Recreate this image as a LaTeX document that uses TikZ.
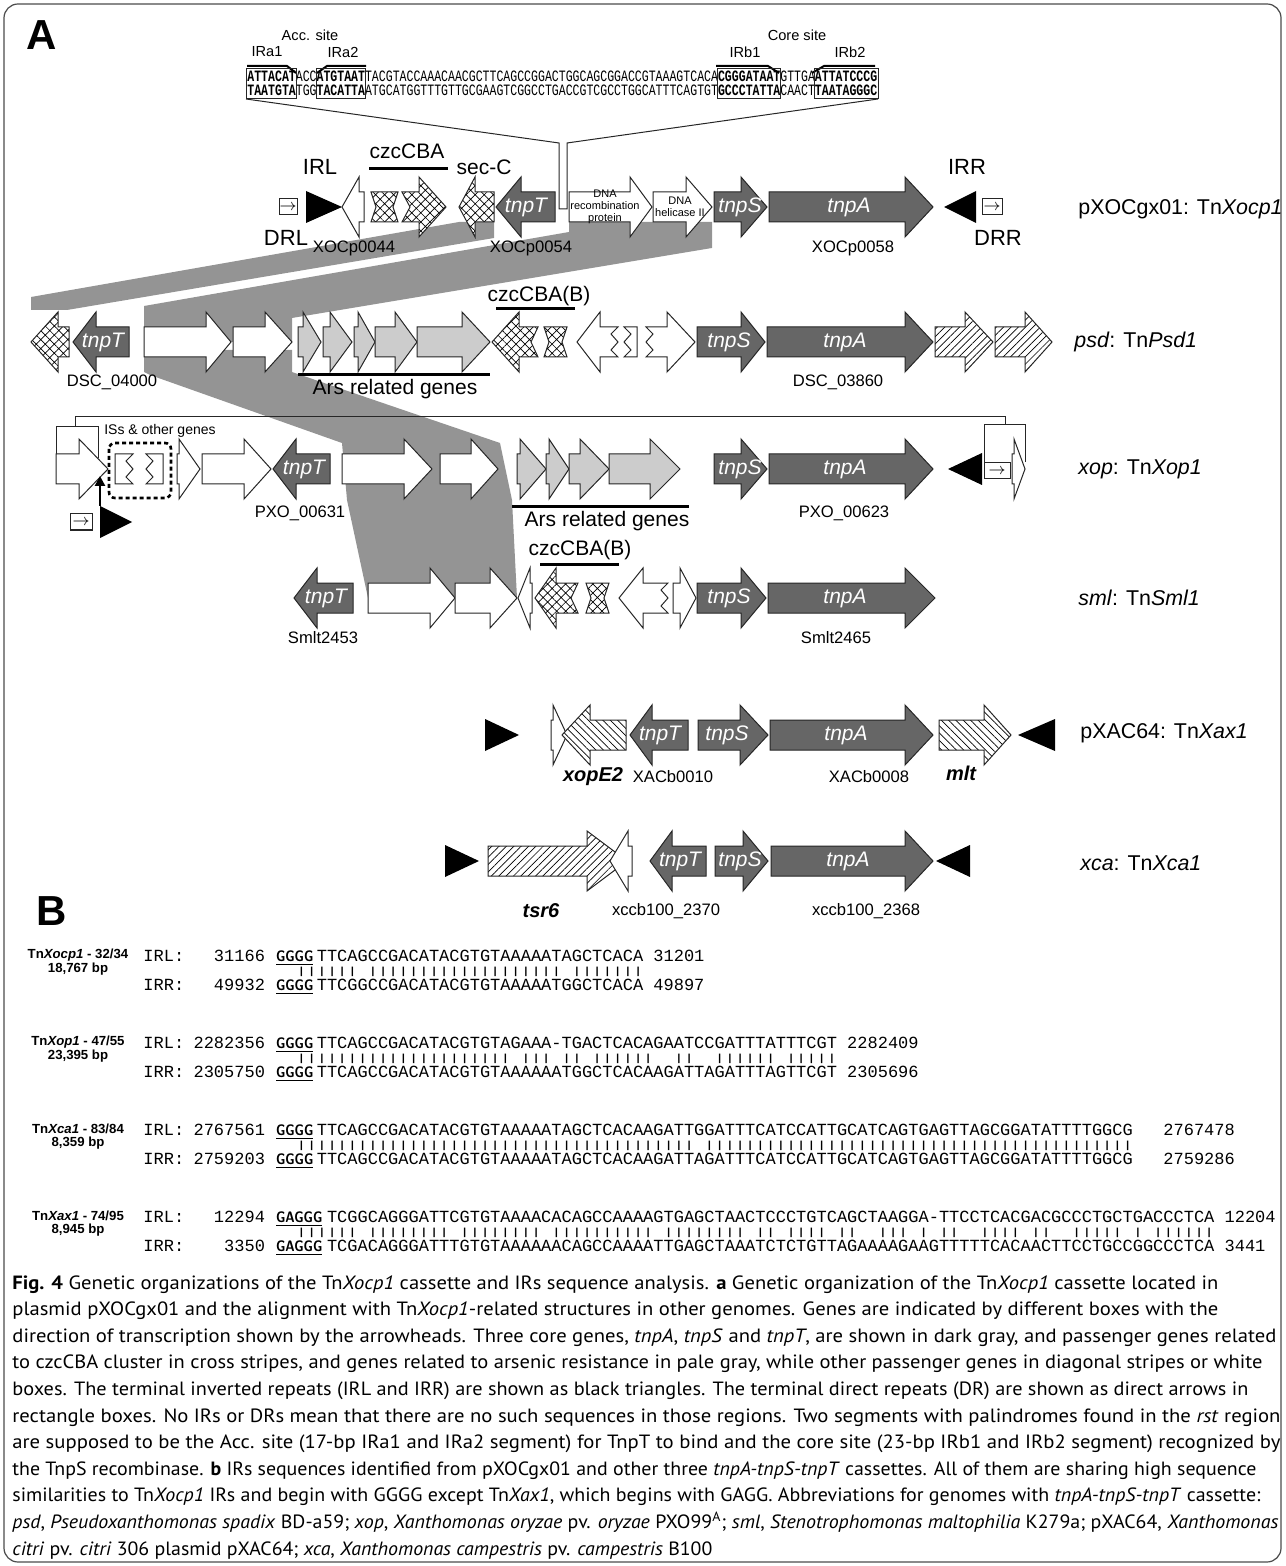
\documentclass[tikz,border=0pt]{standalone}
\usepackage{graphicx}
\usepackage{fontspec}
\setmainfont{Liberation Sans}
\setmonofont{Liberation Mono}
\newfontfamily\capfont{PT Sans}
\usetikzlibrary{patterns.meta,arrows.meta}
\definecolor{coregray}{gray}{0.4}
\definecolor{arsgray}{gray}{0.8}
\definecolor{bandgray}{gray}{0.58}

% gene arrows, [style]{left}{head start}{tip}{centre y}
\newcommand{\geneR}[5][]{\draw[gene,#1] (#2,#5-15) -- (#3,#5-15) -- (#3,#5-30) -- (#4,#5) -- (#3,#5+30) -- (#3,#5+15) -- (#2,#5+15) -- cycle;}
% [style]{tip}{head end}{right end}{centre y}
\newcommand{\geneL}[5][]{\draw[gene,#1] (#2,#5) -- (#3,#5-30) -- (#3,#5-15) -- (#4,#5-15) -- (#4,#5+15) -- (#3,#5+15) -- (#3,#5+30) -- cycle;}
% notched tails
\newcommand{\geneRn}[5][]{\draw[gene,#1] (#2,#5-15) -- (#3,#5-15) -- (#3,#5-30) -- (#4,#5) -- (#3,#5+30) -- (#3,#5+15) -- (#2,#5+15) -- (#2+8,#5) -- cycle;}
\newcommand{\geneLn}[5][]{\draw[gene,#1] (#2,#5) -- (#3,#5-30) -- (#3,#5-15) -- (#4,#5-15) -- (#4-7,#5) -- (#4,#5+15) -- (#3,#5+15) -- (#3,#5+30) -- cycle;}
\newcommand{\geneN}[4][]{\draw[gene,#1] (#2,#4-15) -- (#3,#4-15) -- (#3-5,#4) -- (#3,#4+15) -- (#2,#4+15) -- (#2+5,#4) -- cycle;}
% broken ends
\newcommand{\geneLz}[5][]{\draw[gene,#1] (#2,#5) -- (#3,#5-30) -- (#3,#5-15) -- (#4,#5-15) -- (#4-7,#5-8) -- (#4,#5) -- (#4-7,#5+8) -- (#4,#5+15) -- (#3,#5+15) -- (#3,#5+30) -- cycle;}
\newcommand{\geneRz}[5][]{\draw[gene,#1] (#2,#5-15) -- (#3,#5-15) -- (#3,#5-30) -- (#4,#5) -- (#3,#5+30) -- (#3,#5+15) -- (#2,#5+15) -- (#2+7,#5+8) -- (#2,#5) -- (#2+7,#5-8) -- cycle;}
\newcommand{\boxZr}[4][]{\draw[gene,#1] (#2,#4-15) -- (#3,#4-15) -- (#3-7,#4-8) -- (#3,#4) -- (#3-7,#4+8) -- (#3,#4+15) -- (#2,#4+15) -- cycle;}
\newcommand{\boxZl}[4][]{\draw[gene,#1] (#2,#4-15) -- (#3,#4-15) -- (#3,#4+15) -- (#2,#4+15) -- (#2+7,#4+8) -- (#2,#4) -- (#2+7,#4-8) -- cycle;}
% inverted repeat: {base x}{apex x}{centre y}
\newcommand{\irtri}[3]{\fill (#1,#3-16) -- (#2,#3) -- (#1,#3+16) -- cycle;}
% direct repeat box: {name}{left}{right}{centre y}
\newcommand{\drbox}[4]{\draw[gene,fill=white] (#2,#4-8) rectangle (#3,#4+8);
  \node[inner sep=0,font=\fontsize{8}{8}\selectfont] (#1) at ({(#2+#3)/2},#4) {$\rightarrow$};}
\newcommand{\gbox}[2]{\makebox[#1][l]{\sffamily\bfseries\fontsize{7.6}{8}\selectfont\scalebox{0.84}[1]{\underline{#2}}}}
\newcommand{\matchbar}[1]{\scalebox{1}[0.6]{#1}}

\begin{document}
\begin{tikzpicture}[x=0.5pt,y=-0.5pt,
  gene/.style={draw=black!85,line width=0.5pt,line join=miter},
  coregene/.style={fill=coregray},
  whitegene/.style={fill=white},
  arsgene/.style={fill=arsgray},
  xhatch/.style={preaction={fill=white},pattern={Hatch[angle=45,distance=3.2pt,line width=0.35pt]}},
  nehatch/.style={preaction={fill=white},pattern={Lines[angle=45,distance=2.6pt,line width=0.35pt]}},
  nwhatch/.style={preaction={fill=white},pattern={Lines[angle=-45,distance=2.6pt,line width=0.35pt]}},
  coretxt/.style={text=white,inner sep=0,font=\fontsize{10.5}{12}\selectfont\itshape},
  idlab/.style={inner sep=0,font=\fontsize{8.3}{10}\selectfont},
  genename/.style={inner sep=0,font=\fontsize{10.5}{12}\selectfont},
  passname/.style={inner sep=0,font=\fontsize{10}{12}\selectfont\bfseries\itshape},
  irtxt/.style={inner sep=0,font=\fontsize{11}{12}\selectfont},
  dnatxt/.style={inner sep=0,align=center,font=\fontsize{5.5}{6}\selectfont},
  genome/.style={inner sep=0,anchor=west,font=\fontsize{10.7}{13}\selectfont},
  genebar/.style={line width=1.5pt},
  sitetxt/.style={inner sep=0,font=\fontsize{7.3}{8}\selectfont},
  topseq/.style={inner sep=0,anchor=west,font=\ttfamily\fontsize{7.9}{9}\selectfont},
  monoseq/.style={inner sep=0,anchor=west,text height=6pt,text depth=1.5pt,font=\ttfamily\fontsize{8.5}{10}\selectfont},
  matchrow/.style={monoseq,text height=4pt,text depth=1.1pt},
  blocklab/.style={inner sep=0,font=\fontsize{6.6}{8}\selectfont\bfseries},
  capline/.style={inner sep=0,anchor=base west,font=\capfont\fontsize{9.6}{11}\selectfont},
  panel/.style={inner sep=0,font=\fontsize{21}{24}\selectfont\bfseries}]
\useasboundingbox (0,0) rectangle (1285,1566);
\draw[black!70,line width=0.6pt,rounded corners=7pt] (4,4) rectangle (1281,1562);
\node[panel] (pa) at (42,35) {A};
\node[panel] (pb) at (52,911) {B};

% homology bands
\fill[bandgray] (459,222) -- (494,222) -- (494,238) -- (67,310) -- (31,310) -- (31,297) -- cycle;
\fill[bandgray] (569,222) -- (712,222) -- (712,248) -- (292,318) -- (292,342) -- (144,342) -- (144,306) -- (569,232) -- cycle;
\fill[bandgray] (144,350) -- (292,350) -- (292,372) -- (500,443) -- (512,500) -- (517,598) -- (368,598) -- (347,500) -- (342,443) -- (150,375) -- (144,372) -- cycle;

% rst region sequence
\node[sitetxt] (acc) at (310,35) {Acc. site};
\node[sitetxt] (ira1) at (267,52) {IRa1};
\node[sitetxt] (ira2) at (343,52) {IRa2};
\node[sitetxt] (core) at (797,35) {Core site};
\node[sitetxt] (irb1) at (745,52) {IRb1};
\node[sitetxt] (irb2) at (850,52) {IRb2};
\draw[line width=1pt] (247,66) -- (287,66) -- (296,73);
\draw[line width=1pt] (317,73) -- (327,66) -- (366,66);
\draw[line width=1pt] (716,66) -- (768,66) -- (779,73);
\draw[line width=1pt] (812,73) -- (824,66) -- (875,66);
\node[topseq] (top) at (247,76) {\scalebox{0.73}[1]{\textbf{ATTACAT}ACC\textbf{ATGTAAT}TACGTACCAAACAACGCTTCAGCCGGACTGGCAGCGGACCGTAAAGTCACA\textbf{CGGGATAAT}GTTGA\textbf{ATTATCCCG}}};
\node[topseq] (bot) at (247,92) {\scalebox{0.73}[1]{\underline{\textbf{TAATGTA}}TGG\underline{\textbf{TACATTA}}ATGCATGGTTTGTTGCGAAGTCGGCCTGACCGTCGCCTGGCATTTCAGTGT\underline{\textbf{GCCCTATTA}}CAACT\underline{\textbf{TAATAGGGC}}}};
\draw[gene] (246,69) rectangle (296,99);
\draw[gene] (316,69) rectangle (365,99);
\draw[gene] (717,69) rectangle (780,99);
\draw[gene] (814,69) rectangle (878,99);
\draw[gene] (246,99) -- (559,143) -- (559,209) -- (567,209) -- (567,143) -- (878,99);

% pXOCgx01
\drbox{drl}{279}{297}{207}
\irtri{306}{342}{207}
\geneL[whitegene]{342}{359}{364}{207}
\geneN[xhatch]{371}{398}{207}
\geneRn[xhatch]{402}{419}{446}{207}
\geneL[xhatch]{459}{475}{494}{207}
\geneL[coregene]{496}{521}{555}{207}
\geneR[whitegene]{569}{630}{652}{207}
\geneR[whitegene]{653}{686}{712}{207}
\geneR[coregene]{714}{741}{767}{207}
\geneR[coregene]{769}{905}{933}{207}
\irtri{976}{944}{207}
\drbox{drr}{982}{1002}{207}
\node[irtxt] (irl) at (320,167) {IRL};
\node[irtxt] (drltxt) at (286,238) {DRL};
\node[idlab] (x44) at (354,248) {XOCp0044};
\node[genename] (czc) at (407,151) {czcCBA};
\draw[genebar] (369,169) -- (448,169);
\node[genename] (secc) at (484,167) {sec-C};
\node[coretxt] (t1) at (526,207) {tnpT};
\node[idlab] (x54) at (531,248) {XOCp0054};
\node[dnatxt] (rec) at (605,207) {DNA\\recombination\\protein};
\node[dnatxt] (hel) at (680,207) {DNA\\helicase II};
\node[coretxt] (s1) at (740,207) {tnpS};
\node[coretxt] (a1) at (849,207) {tnpA};
\node[idlab] (x58) at (853,248) {XOCp0058};
\node[irtxt] (irr) at (967,167) {IRR};
\node[irtxt] (drrtxt) at (998,238) {DRR};
\node[genome] (g1) at (1078,209) {pXOCgx01: Tn\textit{Xocp1}};

% psd
\geneL[xhatch]{31}{58}{69}{342}
\geneL[coregene]{73}{96}{129}{342}
\geneR[whitegene]{144}{206}{231}{342}
\geneR[whitegene]{233}{265}{292}{342}
\geneR[arsgene]{298}{303}{321}{342}
\geneR[arsgene]{323}{330}{352}{342}
\geneR[arsgene]{354}{358}{375}{342}
\geneR[arsgene]{375}{395}{417}{342}
\geneR[arsgene]{417}{462}{490}{342}
\geneLn[xhatch]{492}{519}{538}{342}
\geneN[xhatch]{544}{567}{342}
\geneLz[whitegene]{577}{600}{618}{342}
\boxZl[whitegene]{624}{637}{342}
\geneRz[whitegene]{646}{667}{695}{342}
\geneR[coregene]{697}{741}{765}{342}
\geneR[coregene]{767}{905}{933}{342}
\geneR[nehatch]{935}{965}{993}{342}
\geneR[nehatch]{995}{1025}{1052}{342}
\node[coretxt] (t2) at (103,342) {tnpT};
\node[idlab] (dsc1) at (112,382) {DSC\_04000};
\draw[genebar] (298,375) -- (490,375);
\node[genename] (ars2) at (395,389) {Ars related genes};
\node[genename] (czc2) at (539,296) {czcCBA(B)};
\draw[genebar] (496,309) -- (575,309);
\node[coretxt] (s2) at (729,342) {tnpS};
\node[coretxt] (a2) at (845,342) {tnpA};
\node[idlab] (dsc2) at (838,382) {DSC\_03860};
\node[genome] (g2) at (1074,342) {\textit{psd}: Tn\textit{Psd1}};

% xop
\draw[gene] (75,427) -- (75,417) -- (1005,417) -- (1005,425);
\draw[gene] (56,454) -- (56,427) -- (98,427) -- (98,458);
\draw[gene] (984,463) -- (984,425) -- (1025,425) -- (1025,462);
\geneR[whitegene]{56}{79}{108}{469}
\draw[line width=1.3pt,dash pattern=on 2pt off 1.5pt,rounded corners=3pt] (109,443) rectangle (171,498);
\boxZr[whitegene]{115}{133}{469}
\boxZl[whitegene]{146}{163}{469}
\node[inner sep=0,font=\fontsize{7}{8}\selectfont] (iss) at (160,431) {ISs \& other genes};
\geneR[whitegene]{177}{179}{200}{469}
\geneR[whitegene]{202}{244}{271}{469}
\geneL[coregene]{273}{296}{330}{469}
\geneR[whitegene]{342}{404}{432}{469}
\geneR[whitegene]{440}{471}{498}{469}
\geneR[arsgene]{517}{520}{546}{469}
\geneR[arsgene]{546}{549}{569}{469}
\geneR[arsgene]{569}{580}{609}{469}
\geneR[arsgene]{609}{650}{680}{469}
\geneR[coregene]{714}{741}{767}{469}
\geneR[coregene]{769}{905}{933}{469}
\irtri{982}{948}{469}
\drbox{drx}{984}{1010}{471}
\geneR[whitegene]{1012}{1014}{1025}{469}
\drbox{drxl}{70}{92}{522}
\irtri{100}{132}{522}
\draw[line width=1.3pt,-{Triangle[length=5pt,width=5pt]}] (100,506) -- (100,476);
\node[coretxt] (t3) at (304,469) {tnpT};
\node[idlab] (pxo1) at (300,513) {PXO\_00631};
\draw[genebar] (512,507) -- (689,507);
\node[genename] (ars3) at (607,521) {Ars related genes};
\node[coretxt] (s3) at (740,469) {tnpS};
\node[coretxt] (a3) at (845,469) {tnpA};
\node[idlab] (pxo2) at (844,513) {PXO\_00623};
\node[genome] (g3) at (1078,469) {\textit{xop}: Tn\textit{Xop1}};

% sml
\geneL[coregene]{294}{317}{353}{598}
\geneR[whitegene]{368}{430}{455}{598}
\geneR[whitegene]{455}{490}{517}{598}
\geneL[whitegene]{518}{530}{532}{598}
\geneLn[xhatch]{535}{556}{578}{598}
\geneN[xhatch]{586}{609}{598}
\geneLz[whitegene]{619}{643}{668}{598}
\geneR[whitegene]{673}{680}{696}{598}
\geneR[coregene]{697}{741}{766}{598}
\geneR[coregene]{768}{905}{935}{598}
\node[genename] (czc4) at (580,550) {czcCBA(B)};
\draw[genebar] (540,564) -- (619,564);
\node[coretxt] (t4) at (326,598) {tnpT};
\node[idlab] (sm1) at (323,638) {Smlt2453};
\node[coretxt] (s4) at (729,598) {tnpS};
\node[coretxt] (a4) at (845,598) {tnpA};
\node[idlab] (sm2) at (836,638) {Smlt2465};
\node[genome] (g4) at (1078,598) {\textit{sml}: Tn\textit{Sml1}};

% pXAC64
\irtri{485}{519}{735}
\geneR[whitegene]{551}{553}{567}{735}
\geneL[nwhatch]{562}{590}{626}{735}
\geneL[coregene]{630}{652}{688}{735}
\geneR[coregene]{698}{740}{768}{735}
\geneR[coregene]{770}{905}{933}{735}
\geneR[nwhatch]{939}{984}{1011}{735}
\irtri{1055}{1018}{735}
\node[coretxt] (t5) at (660,735) {tnpT};
\node[coretxt] (s5) at (727,735) {tnpS};
\node[coretxt] (a5) at (846,735) {tnpA};
\node[passname] (xope) at (593,777) {xopE2};
\node[idlab] (xac1) at (673,777) {XACb0010};
\node[idlab] (xac2) at (869,777) {XACb0008};
\node[passname] (mlt) at (961,773) {mlt};
\node[genome] (g5) at (1080,733) {pXAC64: Tn\textit{Xax1}};

% xca
\irtri{445}{479}{861}
\geneR[nehatch]{488}{587}{627}{861}
\geneL[whitegene]{610}{628}{632}{861}
\geneL[coregene]{650}{672}{706}{861}
\geneR[coregene]{715}{743}{768}{861}
\geneR[coregene]{771}{905}{933}{861}
\irtri{970}{936}{861}
\node[coretxt] (t6) at (680,861) {tnpT};
\node[coretxt] (s6) at (740,861) {tnpS};
\node[coretxt] (a6) at (848,861) {tnpA};
\node[passname] (tsr) at (541,911) {tsr6};
\node[idlab] (xcc1) at (666,911) {xccb100\_2370};
\node[idlab] (xcc2) at (866,911) {xccb100\_2368};
\node[genome] (g6) at (1080,863) {\textit{xca}: Tn\textit{Xca1}};

% IR alignments
\node[blocklab] (b1a) at (78,955) {Tn\textit{Xocp1} - 32/34};
\node[blocklab] (b1b) at (78,969) {18,767 bp};
\node[monoseq] (b1l) at (143,957) {IRL:};
\node[monoseq,anchor=east] (b1ln) at (265.4,957) {31166};
\node[monoseq] (b1ls) at (275.6,957) {\gbox{20.4pt}{GGGG}TTCAGCCGACATACGTGTAAAAATAGCTCACA~31201};
\node[matchrow] (b1m) at (296,971.5) {\matchbar{||||||~|||||||||||||||||||~|||||||}};
\node[monoseq] (b1r) at (143,986) {IRR:};
\node[monoseq,anchor=east] (b1rn) at (265.4,986) {49932};
\node[monoseq] (b1rs) at (275.6,986) {\gbox{20.4pt}{GGGG}TTCGGCCGACATACGTGTAAAAATGGCTCACA~49897};

\node[blocklab] (b2a) at (78,1042) {Tn\textit{Xop1} - 47/55};
\node[blocklab] (b2b) at (78,1056) {23,395 bp};
\node[monoseq] (b2l) at (143,1044) {IRL:};
\node[monoseq,anchor=east] (b2ln) at (265.4,1044) {2282356};
\node[monoseq] (b2ls) at (275.6,1044) {\gbox{20.4pt}{GGGG}TTCAGCCGACATACGTGTAGAAA-TGACTCACAGAATCCGATTTATTTCGT~2282409};
\node[matchrow] (b2m) at (296,1058.5) {\matchbar{|||||||||||||||||||||~|||~||~||||||~~||~~||||||~|||||}};
\node[monoseq] (b2r) at (143,1073) {IRR:};
\node[monoseq,anchor=east] (b2rn) at (265.4,1073) {2305750};
\node[monoseq] (b2rs) at (275.6,1073) {\gbox{20.4pt}{GGGG}TTCAGCCGACATACGTGTAAAAAATGGCTCACAAGATTAGATTTAGTTCGT~2305696};

\node[blocklab] (b3a) at (78,1129) {Tn\textit{Xca1} - 83/84};
\node[blocklab] (b3b) at (78,1143) {8,359 bp};
\node[monoseq] (b3l) at (143,1131) {IRL:};
\node[monoseq,anchor=east] (b3ln) at (265.4,1131) {2767561};
\node[monoseq] (b3ls) at (275.6,1131) {\gbox{20.4pt}{GGGG}TTCAGCCGACATACGTGTAAAAATAGCTCACAAGATTGGATTTCATCCATTGCATCAGTGAGTTAGCGGATATTTTGGCG~~~2767478};
\node[matchrow] (b3m) at (296,1145.5) {\matchbar{|||||||||||||||||||||||||||||||||||||||~||||||||||||||||||||||||||||||||||||||||||}};
\node[monoseq] (b3r) at (143,1160) {IRR:};
\node[monoseq,anchor=east] (b3rn) at (265.4,1160) {2759203};
\node[monoseq] (b3rs) at (275.6,1160) {\gbox{20.4pt}{GGGG}TTCAGCCGACATACGTGTAAAAATAGCTCACAAGATTAGATTTCATCCATTGCATCAGTGAGTTAGCGGATATTTTGGCG~~~2759286};

\node[blocklab] (b4a) at (78,1216) {Tn\textit{Xax1} - 74/95};
\node[blocklab] (b4b) at (78,1230) {8,945 bp};
\node[monoseq] (b4l) at (143,1218) {IRL:};
\node[monoseq,anchor=east] (b4ln) at (265.4,1218) {12294};
\node[monoseq] (b4ls) at (275.6,1218) {\gbox{25.5pt}{GAGGG}TCGGCAGGGATTCGTGTAAAACACAGCCAAAAGTGAGCTAACTCCCTGTCAGCTAAGGA-TTCCTCACGACGCCCTGCTGACCCTCA~12204};
\node[matchrow] (b4m) at (296,1232.5) {\matchbar{||||||~||||||||~||||||||~||||||||||~||||||||~||~||||~||~~|||~|~||~~||||~||~~|||||~|~||||||}};
\node[monoseq] (b4r) at (143,1247) {IRR:};
\node[monoseq,anchor=east] (b4rn) at (265.4,1247) {3350};
\node[monoseq] (b4rs) at (275.6,1247) {\gbox{25.5pt}{GAGGG}TCGACAGGGATTTGTGTAAAAAACAGCCAAAATTGAGCTAAATCTCTGTTAGAAAAGAAGTTTTTCACAACTTCCTGCCGGCCCTCA~3441};

% caption
\node[capline] (cap1) at (12,1289) {\resizebox{603pt}{\height}{\textbf{Fig. 4} Genetic organizations of the Tn\textit{Xocp1} cassette and IRs sequence analysis. \textbf{a} Genetic organization of the Tn\textit{Xocp1} cassette located in}};
\node[capline] (cap2) at (12,1315.6) {\resizebox{603pt}{\height}{plasmid pXOCgx01 and the alignment with Tn\textit{Xocp1}-related structures in other genomes. Genes are indicated by different boxes with the}};
\node[capline] (cap3) at (12,1342.2) {\resizebox{632pt}{\height}{direction of transcription shown by the arrowheads. Three core genes, \textit{tnpA}, \textit{tnpS} and \textit{tnpT}, are shown in dark gray, and passenger genes related}};
\node[capline] (cap4) at (12,1368.8) {\resizebox{625pt}{\height}{to czcCBA cluster in cross stripes, and genes related to arsenic resistance in pale gray, while other passenger genes in diagonal stripes or white}};
\node[capline] (cap5) at (12,1395.4) {\resizebox{618pt}{\height}{boxes. The terminal inverted repeats (IRL and IRR) are shown as black triangles. The terminal direct repeats (DR) are shown as direct arrows in}};
\node[capline] (cap6) at (12,1422) {\resizebox{634pt}{\height}{rectangle boxes. No IRs or DRs mean that there are no such sequences in those regions. Two segments with palindromes found in the \textit{rst} region}};
\node[capline] (cap7) at (12,1448.6) {\resizebox{634pt}{\height}{are supposed to be the Acc. site (17-bp IRa1 and IRa2 segment) for TnpT to bind and the core site (23-bp IRb1 and IRb2 segment) recognized by}};
\node[capline] (cap8) at (12,1475.2) {\resizebox{622pt}{\height}{the TnpS recombinase. \textbf{b} IRs sequences identified from pXOCgx01 and other three \textit{tnpA-tnpS-tnpT} cassettes. All of them are sharing high sequence}};
\node[capline] (cap9) at (12,1501.8) {\resizebox{624pt}{\height}{similarities to Tn\textit{Xocp1} IRs and begin with GGGG except Tn\textit{Xax1}, which begins with GAGG. Abbreviations for genomes with \textit{tnpA-tnpS-tnpT} cassette:}};
\node[capline] (cap10) at (12,1528.4) {\resizebox{633pt}{\height}{\textit{psd}, \textit{Pseudoxanthomonas spadix} BD-a59; \textit{xop}, \textit{Xanthomonas oryzae} pv. \textit{oryzae} PXO99\textsuperscript{A}; \textit{sml}, \textit{Stenotrophomonas maltophilia} K279a; pXAC64, \textit{Xanthomonas}}};
\node[capline] (cap11) at (12,1555) {\resizebox{350pt}{\height}{\textit{citri} pv. \textit{citri} 306 plasmid pXAC64; \textit{xca}, \textit{Xanthomonas campestris} pv. \textit{campestris} B100}};
\end{tikzpicture}
\end{document}
